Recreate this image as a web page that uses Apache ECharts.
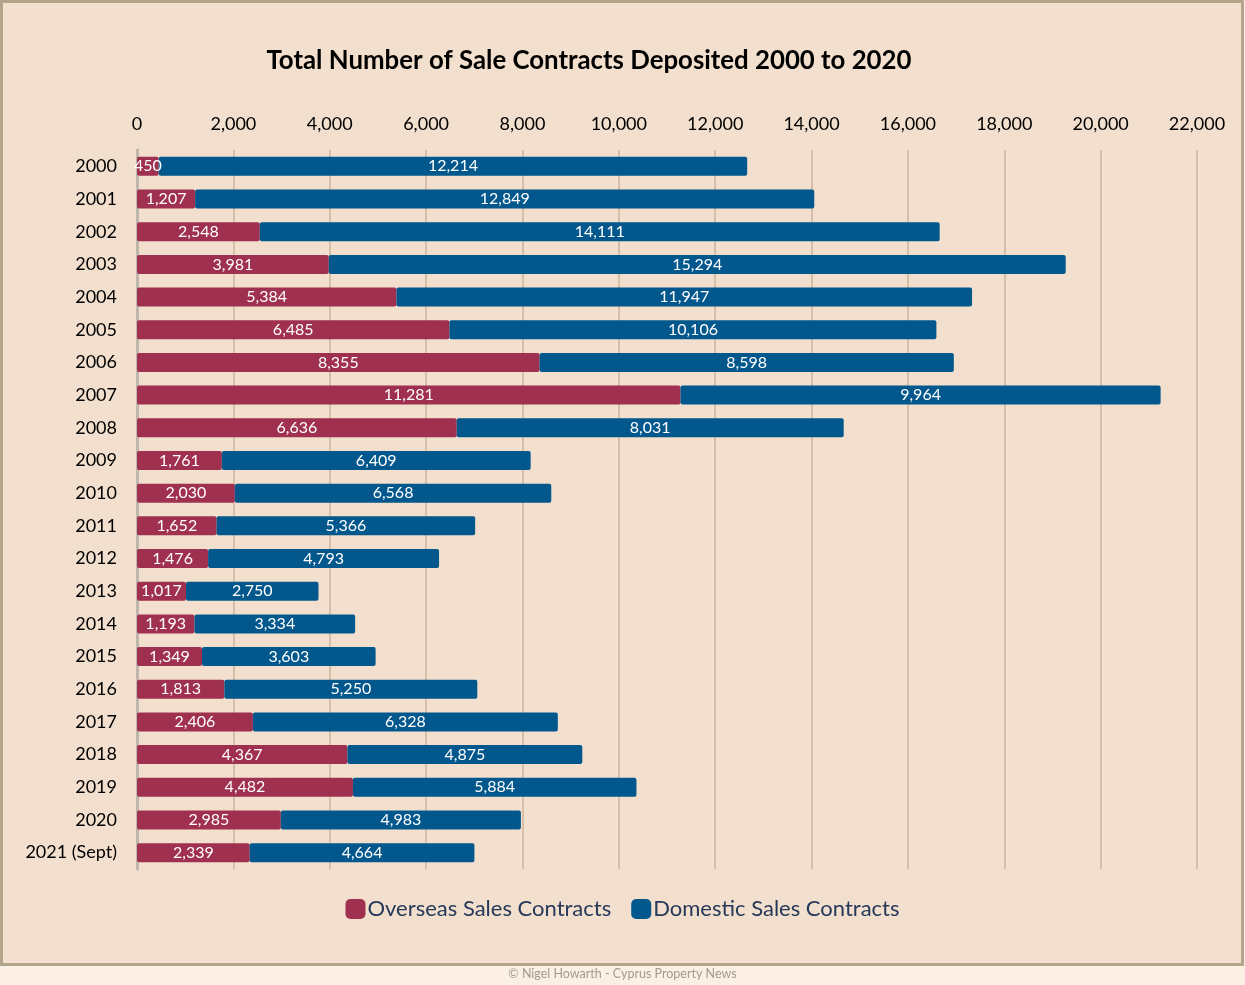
<!DOCTYPE html>
<html><head><meta charset="utf-8">
<script src="https://cdn.jsdelivr.net/npm/echarts@6/dist/echarts.min.js"></script>
<style>html,body{margin:0;padding:0;background:#fcefe3;}#c{width:1245px;height:985px;}</style>
</head><body><div id="c"></div>
<script>
const categories = ['2000','2001','2002','2003','2004','2005','2006','2007','2008','2009','2010','2011','2012','2013','2014','2015','2016','2017','2018','2019','2020','2021 (Sept)'];
const overseas = [450,1207,2548,3981,5384,6485,8355,11281,6636,1761,2030,1652,1476,1017,1193,1349,1813,2406,4367,4482,2985,2339];
const domestic = [12214,12849,14111,15294,11947,10106,8598,9964,8031,6409,6568,5366,4793,2750,3334,3603,5250,6328,4875,5884,4983,4664];
const FONT = 'Lato, "Open Sans", sans-serif';
const fmt = v => Number(v).toLocaleString('en-US');
const chart = echarts.init(document.getElementById('c'), null, {renderer:'canvas'});
chart.setOption({
  backgroundColor: 'transparent',
  animation: false,
  textStyle: {fontFamily: FONT},
  graphic: [
    {type:'rect', z:-10, shape:{x:1.5,y:1.5,width:1241,height:963}, style:{fill:'#f2dfcd', stroke:'#b3a48c', lineWidth:3}},
    {type:'text', left:'center', top:967, style:{text:'© Nigel Howarth - Cyprus Property News', fill:'#a39a92', font:'12.5px '+FONT}}
  ],
  title: {
    text: 'Total Number of Sale Contracts Deposited 2000 to 2020',
    left: 584, textAlign: 'center', top: 43,
    textStyle: {fontFamily: FONT, fontSize: 25.8, fontWeight: 'bold', color: '#000'}
  },
  legend: {
    bottom: 60, left: 'center',
    itemWidth: 20, itemHeight: 20, itemGap: 20,
    icon: 'roundRect',
    textStyle: {fontFamily: FONT, fontSize: 22, color: '#27395a', padding:[0,0,0,-3]},
    data: ['Overseas Sales Contracts','Domestic Sales Contracts']
  },
  grid: {left: 137, right: 48, top: 150, bottom: 116, containLabel: false},
  xAxis: {
    type: 'value', position: 'top', min: 0, max: 22000, interval: 2000,
    axisLine: {show: false}, axisTick: {show: false},
    axisLabel: {fontFamily: FONT, fontSize: 18, color: '#000', margin: 17, formatter: fmt},
    splitLine: {show: true, lineStyle: {color: '#d5bfa9', width: 2}}
  },
  yAxis: {
    type: 'category', data: categories, inverse: true,
    axisLine: {show: true, lineStyle: {color: '#bfb6ac', width: 3}},
    axisTick: {show: false},
    axisLabel: {fontFamily: FONT, fontSize: 18, color: '#000', margin: 20}
  },
  series: [
    {
      name: 'Overseas Sales Contracts', type: 'bar', stack: 'total', data: overseas,
      barWidth: 19,
      itemStyle: {color: '#a0304f', borderRadius: 2},
      label: {show: true, position: 'inside', color: '#fff', fontFamily: FONT, fontSize: 16, formatter: p => fmt(p.value)}
    },
    {
      name: 'Domestic Sales Contracts', type: 'bar', stack: 'total', data: domestic,
      barWidth: 19,
      itemStyle: {color: '#02578d', borderRadius: 2},
      label: {show: true, position: 'inside', color: '#fff', fontFamily: FONT, fontSize: 16, formatter: p => fmt(p.value)}
    }
  ]
});
</script></body></html>
